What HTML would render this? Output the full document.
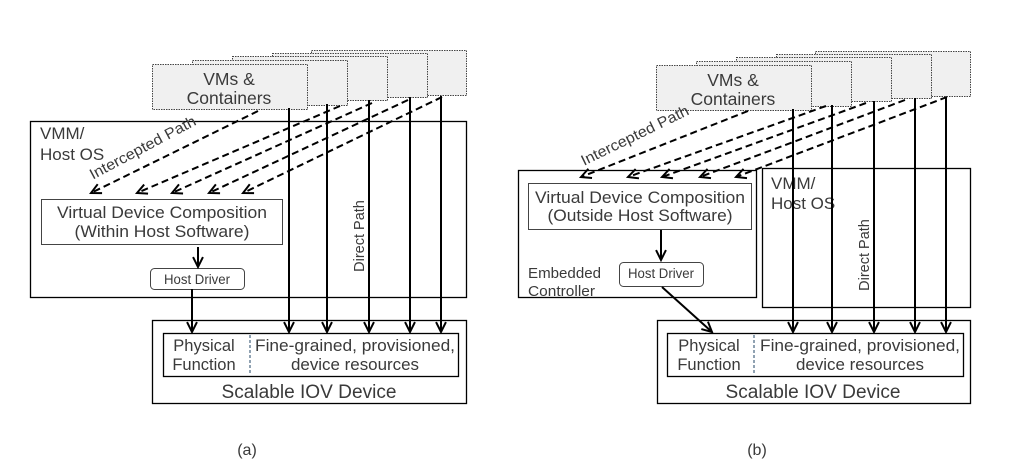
<!DOCTYPE html>
<html><head><meta charset="utf-8"><style>
html,body{margin:0;padding:0;background:#fff;}
svg{display:block;}
text{font-family:"Liberation Sans",sans-serif;fill:#3a3a3a;}
</style></head><body>
<svg width="1023" height="464" viewBox="0 0 1023 464" xmlns="http://www.w3.org/2000/svg">
<defs>
<marker id="ah" viewBox="0 0 10 10" refX="9" refY="5" markerWidth="11" markerHeight="11" orient="auto" markerUnits="userSpaceOnUse" style="overflow:visible">
<path d="M0,0.5 L9,5 L0,9.5" fill="none" stroke="#000" stroke-width="1.8"/>
</marker>
<g id="stack">
<rect x="311.5" y="50.5" width="155" height="45" fill="#f0f0f0" stroke="#444" stroke-dasharray="1.5,1"/>
<rect x="272.5" y="53.5" width="155" height="44" fill="#f0f0f0" stroke="#444" stroke-dasharray="1.5,1"/>
<rect x="232.5" y="56.5" width="155" height="44" fill="#f0f0f0" stroke="#444" stroke-dasharray="1.5,1"/>
<rect x="192.5" y="60.5" width="155" height="45" fill="#f0f0f0" stroke="#444" stroke-dasharray="1.5,1"/>
<rect x="152.5" y="64.5" width="155" height="45" fill="#f0f0f0" stroke="#444" stroke-dasharray="1.5,1"/>
<text x="229" y="85" font-size="17.5" text-anchor="middle">VMs &amp;</text>
<text x="229" y="104" font-size="17.5" text-anchor="middle">Containers</text>
</g>
</defs>

<!-- (a) -->
<use href="#stack"/>
<rect x="30.5" y="121.5" width="436" height="176" fill="none" stroke="#000" stroke-width="1.3"/>
<text x="40" y="139" font-size="17">VMM/</text>
<text x="40" y="160" font-size="17">Host OS</text>
<rect x="41.5" y="199.5" width="241" height="45" fill="#fff" stroke="#444"/>
<text x="162" y="218" font-size="16.5" text-anchor="middle" textLength="210" lengthAdjust="spacingAndGlyphs">Virtual Device Composition</text>
<text x="162" y="237" font-size="16.5" text-anchor="middle" textLength="175" lengthAdjust="spacingAndGlyphs">(Within Host Software)</text>
<rect x="150.5" y="268.5" width="94" height="21" rx="4" fill="#fff" stroke="#444"/>
<text x="197" y="284" font-size="13.5" text-anchor="middle" textLength="66" lengthAdjust="spacingAndGlyphs">Host Driver</text>
<line x1="198" y1="247" x2="198" y2="267" stroke="#000" stroke-width="2" marker-end="url(#ah)"/>
<g stroke="#000" stroke-width="2" stroke-dasharray="7,4" fill="none" marker-end="url(#ah)">
<line x1="258" y1="111" x2="91" y2="193"/>
<line x1="340" y1="106" x2="137" y2="193"/>
<line x1="372" y1="103" x2="172" y2="193"/>
<line x1="408" y1="100" x2="209" y2="193"/>
<line x1="442" y1="97" x2="243" y2="193"/>
</g>
<text transform="translate(145,152) rotate(-28)" font-size="15" text-anchor="middle" textLength="118" lengthAdjust="spacingAndGlyphs">Intercepted Path</text>
<text transform="translate(364,236) rotate(-90)" font-size="14.5" text-anchor="middle">Direct Path</text>
<g stroke="#000" stroke-width="2" marker-end="url(#ah)">
<line x1="289" y1="108" x2="289" y2="332"/>
<line x1="327" y1="104" x2="327" y2="332"/>
<line x1="369" y1="100" x2="369" y2="332"/>
<line x1="410" y1="97" x2="410" y2="332"/>
<line x1="441" y1="96" x2="441" y2="332"/>
<line x1="192" y1="289" x2="192" y2="332"/>
</g>
<rect x="152.5" y="320.5" width="314" height="83" fill="none" stroke="#000" stroke-width="1.3"/>
<rect x="163.5" y="333.5" width="295" height="43" fill="none" stroke="#000" stroke-width="1.3"/>
<line x1="250" y1="335" x2="250" y2="375" stroke="#246" stroke-dasharray="3,2"/>
<text x="204" y="351" font-size="16.5" text-anchor="middle">Physical</text>
<text x="204" y="370" font-size="16.5" text-anchor="middle">Function</text>
<text x="355" y="351" font-size="16.5" text-anchor="middle" textLength="200" lengthAdjust="spacingAndGlyphs">Fine-grained, provisioned,</text>
<text x="355" y="370" font-size="16.5" text-anchor="middle" textLength="128" lengthAdjust="spacingAndGlyphs">device resources</text>
<text x="309" y="398" font-size="19" text-anchor="middle" textLength="175" lengthAdjust="spacingAndGlyphs">Scalable IOV Device</text>
<text x="247" y="455" font-size="16" text-anchor="middle">(a)</text>

<!-- (b) -->
<use href="#stack" transform="translate(504,1)"/>
<rect x="518.5" y="170.5" width="238" height="127" fill="none" stroke="#000" stroke-width="1.3"/>
<rect x="762.5" y="168.5" width="208" height="139" fill="none" stroke="#000" stroke-width="1.3"/>
<text x="771" y="189" font-size="17">VMM/</text>
<text x="771" y="209" font-size="17">Host OS</text>
<rect x="528.5" y="183.5" width="223" height="46" fill="#fff" stroke="#444"/>
<text x="640" y="203" font-size="16.5" text-anchor="middle" textLength="210" lengthAdjust="spacingAndGlyphs">Virtual Device Composition</text>
<text x="640" y="221" font-size="16.5" text-anchor="middle" textLength="185" lengthAdjust="spacingAndGlyphs">(Outside Host Software)</text>
<text x="528" y="278" font-size="15" textLength="73" lengthAdjust="spacingAndGlyphs">Embedded</text>
<text x="528" y="296" font-size="15" textLength="67" lengthAdjust="spacingAndGlyphs">Controller</text>
<rect x="619.5" y="262.5" width="84" height="24" rx="4" fill="#fff" stroke="#444"/>
<text x="661" y="278" font-size="13.5" text-anchor="middle" textLength="66" lengthAdjust="spacingAndGlyphs">Host Driver</text>
<line x1="661" y1="230" x2="661" y2="260" stroke="#000" stroke-width="2" marker-end="url(#ah)"/>
<line x1="662" y1="287" x2="712" y2="332" stroke="#000" stroke-width="2" marker-end="url(#ah)"/>
<g stroke="#000" stroke-width="2" stroke-dasharray="7,4" fill="none" marker-end="url(#ah)">
<line x1="748" y1="111" x2="581" y2="177"/>
<line x1="826" y1="106" x2="628" y2="177"/>
<line x1="866" y1="103" x2="662" y2="177"/>
<line x1="905" y1="100" x2="700" y2="177"/>
<line x1="947" y1="97" x2="736" y2="177"/>
</g>
<text transform="translate(637,140) rotate(-26)" font-size="15" text-anchor="middle" textLength="118" lengthAdjust="spacingAndGlyphs">Intercepted Path</text>
<text transform="translate(869,255) rotate(-90)" font-size="14.5" text-anchor="middle">Direct Path</text>
<g stroke="#000" stroke-width="2" marker-end="url(#ah)">
<line x1="793" y1="109" x2="793" y2="332"/>
<line x1="832" y1="105" x2="832" y2="332"/>
<line x1="874" y1="101" x2="874" y2="332"/>
<line x1="915" y1="98" x2="915" y2="332"/>
<line x1="946" y1="97" x2="946" y2="332"/>
</g>
<rect x="657.5" y="320.5" width="313" height="83" fill="none" stroke="#000" stroke-width="1.3"/>
<rect x="667.5" y="333.5" width="296" height="43" fill="none" stroke="#000" stroke-width="1.3"/>
<line x1="754" y1="335" x2="754" y2="375" stroke="#246" stroke-dasharray="3,2"/>
<text x="709" y="351" font-size="16.5" text-anchor="middle">Physical</text>
<text x="709" y="370" font-size="16.5" text-anchor="middle">Function</text>
<text x="860" y="351" font-size="16.5" text-anchor="middle" textLength="200" lengthAdjust="spacingAndGlyphs">Fine-grained, provisioned,</text>
<text x="860" y="370" font-size="16.5" text-anchor="middle" textLength="128" lengthAdjust="spacingAndGlyphs">device resources</text>
<text x="813" y="398" font-size="19" text-anchor="middle" textLength="175" lengthAdjust="spacingAndGlyphs">Scalable IOV Device</text>
<text x="757" y="455" font-size="16" text-anchor="middle">(b)</text>
</svg>
</body></html>
